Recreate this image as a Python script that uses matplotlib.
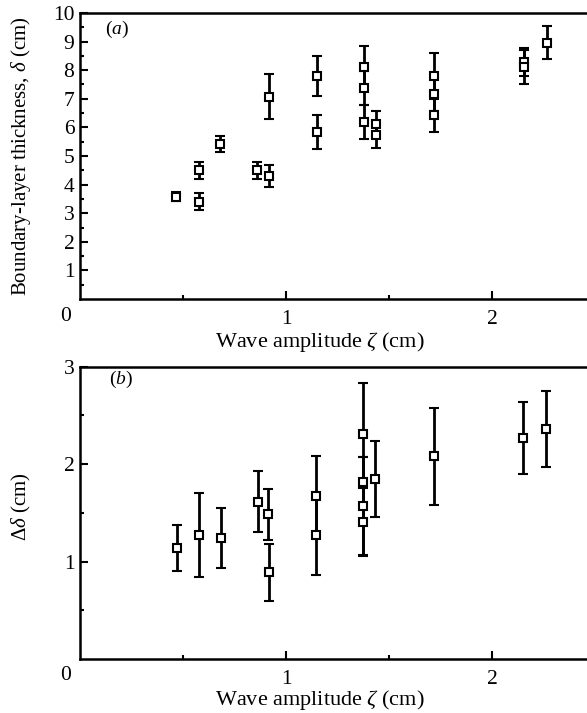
import matplotlib
matplotlib.use('Agg')
import matplotlib.pyplot as plt
from matplotlib.ticker import FixedLocator
import numpy as np

plt.rcParams['font.family'] = ['Liberation Serif', 'DejaVu Serif']
plt.rcParams['mathtext.fontset'] = 'custom'
plt.rcParams['mathtext.rm'] = 'Liberation Serif'
plt.rcParams['mathtext.it'] = 'Liberation Serif:italic'

# (a) boundary-layer thickness vs wave amplitude
amp_a = [0.467, 0.576, 0.576, 0.68, 0.858, 0.916, 0.916, 1.148, 1.148,
         1.38, 1.38, 1.38, 1.435, 1.435, 1.72, 1.72, 1.72, 2.152, 2.152, 2.264]
delta = [3.58, 4.5, 3.4, 5.42, 4.5, 4.3, 7.07, 7.8, 5.85,
         8.1, 7.37, 6.2, 6.12, 5.72, 7.8, 7.16, 6.45, 8.28, 8.1, 8.96]
delta_err = [0.17, 0.3, 0.3, 0.28, 0.3, 0.4, 0.79, 0.7, 0.6,
             0.75, 0.6, 0.6, 0.45, 0.45, 0.8, 0.6, 0.6, 0.5, 0.6, 0.57]

# (b) spread of boundary-layer thickness
amp_b = [0.469, 0.578, 0.686, 0.863, 0.912, 0.915, 1.143, 1.143,
         1.372, 1.372, 1.372, 1.372, 1.43, 1.72, 2.149, 2.262]
ddelta = [1.14, 1.27, 1.24, 1.615, 1.486, 0.89, 1.67, 1.27,
          2.31, 1.82, 1.57, 1.41, 1.85, 2.08, 2.27, 2.36]
ddelta_err = [0.235, 0.43, 0.31, 0.31, 0.26, 0.29, 0.41, 0.41,
              0.52, 0.25, 0.5, 0.35, 0.39, 0.5, 0.37, 0.39]

fig = plt.figure(figsize=(5.87, 7.13), dpi=100)
ax1 = fig.add_axes([0.1363, 0.5806, 0.8637, 0.4012])
ax2 = fig.add_axes([0.1363, 0.0757, 0.8637, 0.4100])

def style(ax, label_y, zero_y):
    for s in ['left', 'bottom', 'top']:
        ax.spines[s].set_linewidth(1.8)
    ax.spines['right'].set_visible(False)
    ax.set_xlim(0, 2.46)
    ax.xaxis.set_major_locator(FixedLocator([1, 2]))
    ax.xaxis.set_minor_locator(FixedLocator([0.5, 1.5]))
    ax.tick_params(which='both', direction='in', top=False, right=False,
                   labelsize=15.5, width=1.5)
    ax.tick_params(which='major', length=6)
    ax.tick_params(axis='x', which='major', pad=8)
    ax.tick_params(axis='y', which='major', pad=4)
    ax.tick_params(which='minor', length=3)
    ax.text(-0.028, zero_y, '0', transform=ax.transAxes, fontsize=15.5,
            ha='center', va='center')
    ax.set_xlabel(r'Wave amplitude $\zeta$ (cm)', fontsize=16)
    ax.xaxis.set_label_coords(0.473, label_y)

ax1.errorbar(amp_a, delta, yerr=delta_err, fmt='s', ms=5.5, mfc='white',
             mec='black', mew=1.5, ecolor='black', elinewidth=2, capsize=3.5,
             capthick=2)
style(ax1, -0.108, -0.06)
ax1.set_ylim(0, 10)
ax1.yaxis.set_major_locator(FixedLocator(range(1, 11)))
ax1.yaxis.set_minor_locator(FixedLocator(np.arange(0.5, 10, 1)))
ax1.set_ylabel(r'Boundary-layer thickness, $\it{\delta}$ (cm)', fontsize=15)
ax1.yaxis.set_label_coords(-0.092, 0.5)
ax1.text(0.12, 9.25, r'($\it{a}$)', fontsize=14)

ax2.errorbar(amp_b, ddelta, yerr=ddelta_err, fmt='s', ms=5.5, mfc='white',
             mec='black', mew=1.5, ecolor='black', elinewidth=2, capsize=3.5,
             capthick=2)
style(ax2, -0.1, -0.055)
ax2.set_ylim(0, 3)
ax2.yaxis.set_major_locator(FixedLocator([1, 2, 3]))
ax2.yaxis.set_minor_locator(FixedLocator([0.5, 1.5, 2.5]))
ax2.set_ylabel(r'$\Delta\it{\delta}$ (cm)', fontsize=15)
ax2.yaxis.set_label_coords(-0.092, 0.52)
ax2.text(0.14, 2.82, r'($\it{b}$)', fontsize=14)

fig.savefig('out.png', dpi=100)
